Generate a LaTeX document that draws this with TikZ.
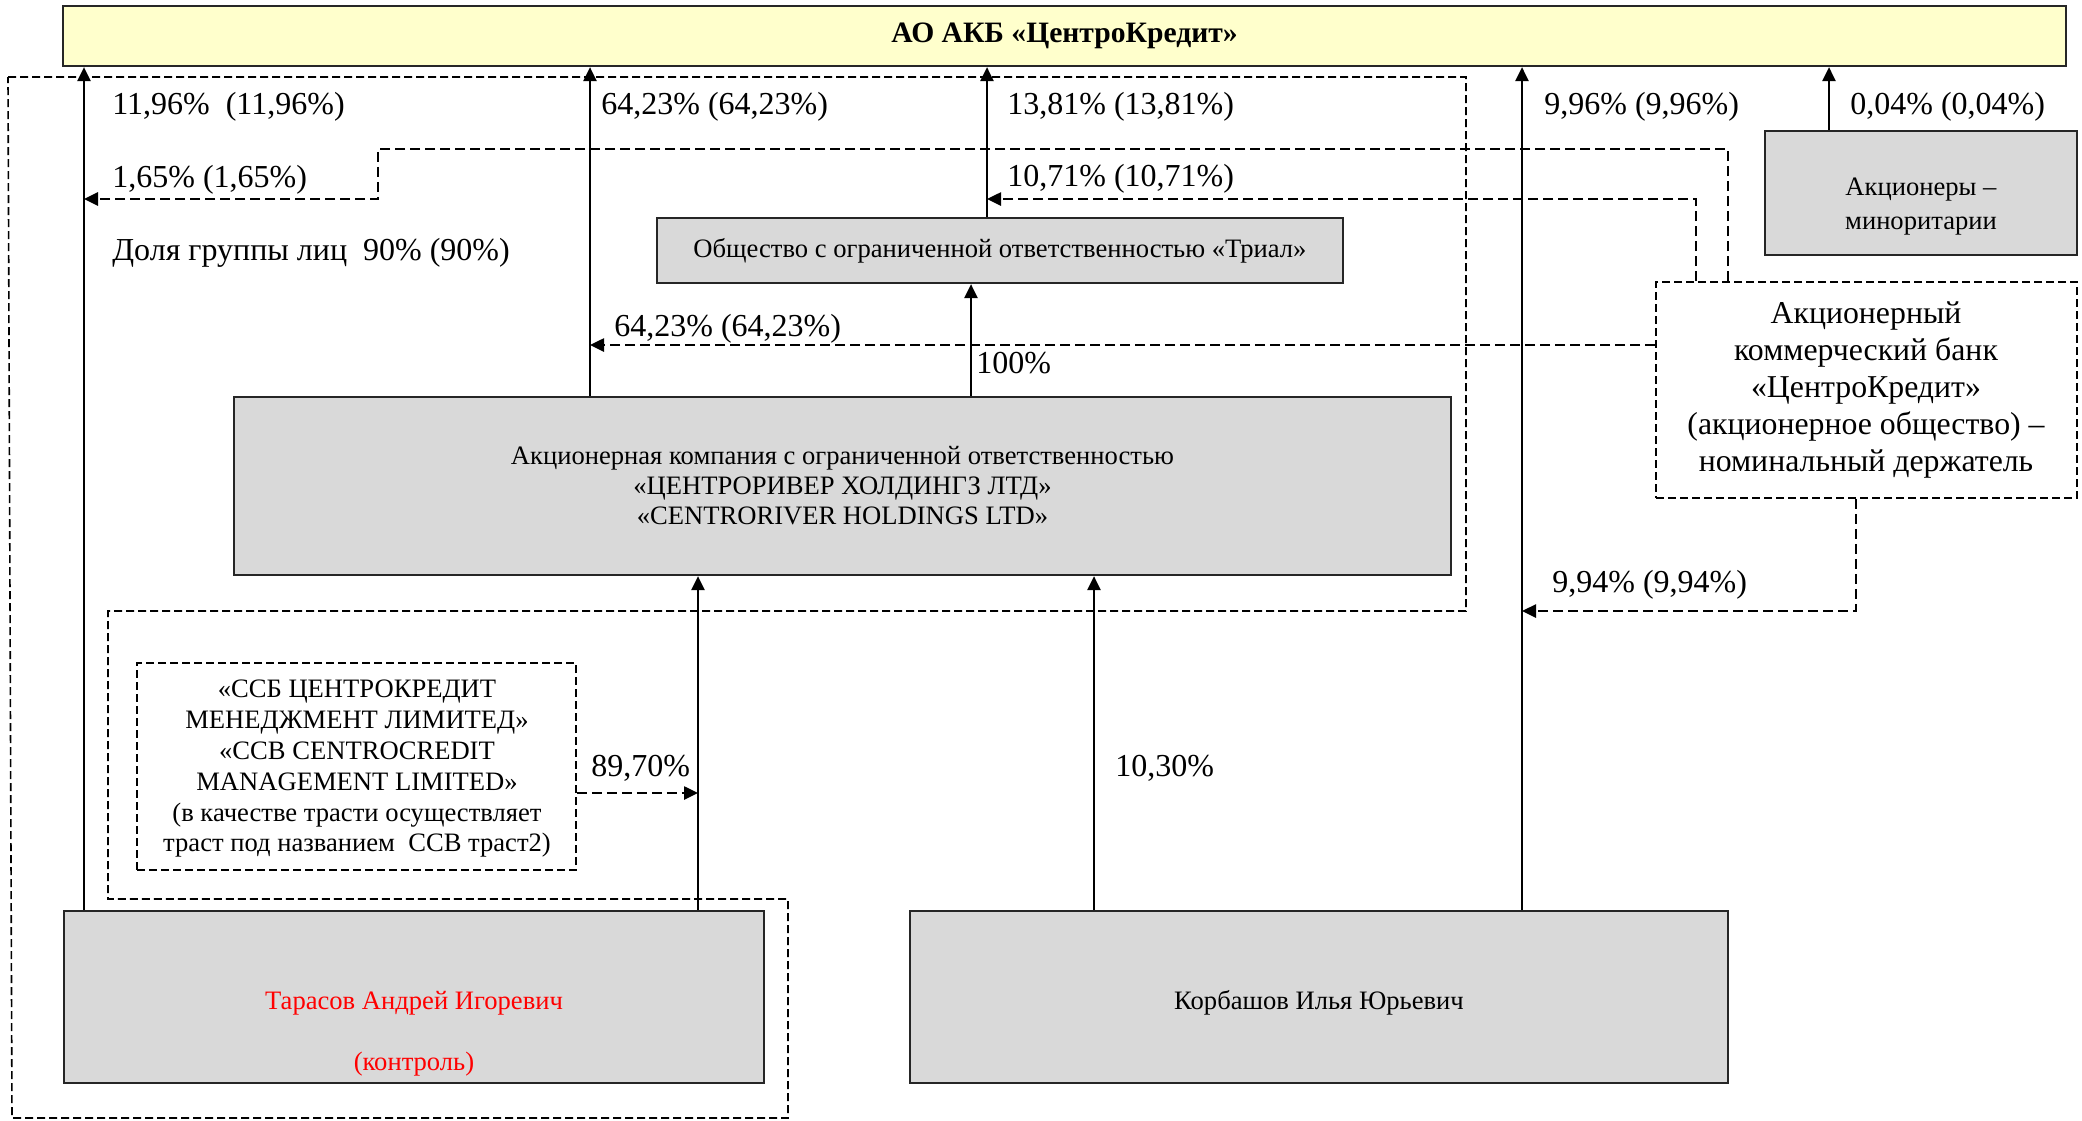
\documentclass[tikz,border=0pt]{standalone}
\usepackage{fontspec}
\setmainfont{Liberation Serif}
\usetikzlibrary{arrows.meta,calc}
\definecolor{topfill}{HTML}{FFFFCC}
\definecolor{boxfill}{HTML}{D9D9D9}
\begin{document}
\begin{tikzpicture}[x=0.5pt,y=-0.5pt,
  box/.style={draw=black!85,line width=1.1pt,fill=boxfill,inner sep=0pt,align=center,font=\fontsize{13.3}{15}\selectfont},
  dbox/.style={draw,dashed,dash pattern=on 4pt off 2pt,line width=0.8pt,fill=white,inner sep=0pt,align=center},
  frame/.style={draw,dash pattern=on 4pt off 2pt,line width=0.8pt},
  arr/.style={line width=1.2pt,-{Triangle[length=7pt,width=6.5pt]}},
  darr/.style={line width=1.3pt,dash pattern=on 5pt off 2.5pt,-{Triangle[length=7pt,width=6.5pt]}},
  lbl/.style={anchor=west,inner sep=0pt,font=\fontsize{16}{19}\selectfont}]
\useasboundingbox (0,0) rectangle (2082,1120);
% group frame
\draw[frame] (8,77) -- (1466,77) -- (1466,611) -- (108,611) -- (108,899) -- (788,899) -- (788,1118) -- (12,1118) -- cycle;
% nodes
\node[box,fill=topfill,minimum width=1001.5pt,minimum height=30pt,font=\fontsize{14.8}{17}\selectfont\bfseries] (top) at (1064.5,36) {АО АКБ «ЦентроКредит»};
\node[box,minimum width=343pt,minimum height=32.5pt] (trial) at (1000,250.5) {Общество с ограниченной ответственностью «Триал»};
\node[box,minimum width=608.5pt,minimum height=89pt] (cr) at (842.5,486) {Акционерная компания с ограниченной ответственностью\\«ЦЕНТРОРИВЕР ХОЛДИНГЗ ЛТД»\\«CENTRORIVER HOLDINGS LTD»};
\node[dbox,minimum width=210.5pt,minimum height=108pt] (bank) at (1866.5,390) {};
\node[inner sep=0pt,align=center,font=\fontsize{15.9}{18.4}\selectfont] (banktxt) at (1866,390) {Акционерный\\коммерческий банк\\«ЦентроКредит»\\(акционерное общество) –\\номинальный держатель};
\node[box,minimum width=156pt,minimum height=62pt] (min) at (1921,193) {};
\node[inner sep=0pt,align=center,font=\fontsize{13.3}{17}\selectfont] (mintxt) at (1921,207) {Акционеры –\\миноритарии};
\node[dbox,minimum width=219.5pt,minimum height=103.5pt] (ccb) at (356.5,766.5) {};
\node[inner sep=0pt,align=center,font=\fontsize{13.3}{15.4}\selectfont] (ccbtxt) at (357,769) {«ССБ ЦЕНТРОКРЕДИТ\\МЕНЕДЖМЕНТ ЛИМИТЕД»\\«CCB CENTROCREDIT\\MANAGEMENT LIMITED»\\(в качестве трасти осуществляет\\траст под названием\ \ ССВ траст2)};
\node[box,minimum width=350pt,minimum height=86pt] (tar) at (414,997) {};
\node[inner sep=0pt,text=red,font=\fontsize{13.3}{15}\selectfont] (tar1) at (414,1003) {Тарасов Андрей Игоревич};
\node[inner sep=0pt,text=red,font=\fontsize{13.3}{15}\selectfont] (tar2) at (414,1064) {(контроль)};
\node[box,minimum width=409pt,minimum height=86pt,text depth=0pt,text height=4pt] (kor) at (1319,997) {};
\node[inner sep=0pt,font=\fontsize{13.3}{15}\selectfont] (kortxt) at (1319,1003) {Корбашов Илья Юрьевич};
% columns
\coordinate (cA) at (84,0);
\coordinate (cB) at (590,0);
\coordinate (cC) at (987,0);
\coordinate (cD) at (1522,0);
\coordinate (cE) at (1829,0);
\coordinate (cF) at (971,0);
\coordinate (cG) at (698,0);
\coordinate (cH) at (1094,0);
\coordinate (cI) at (1728,0);
\coordinate (cJ) at (1696,0);
\coordinate (cK) at (1856,0);
\coordinate (r149) at (0,149);
\coordinate (r199) at (0,199);
\coordinate (r345) at (0,345);
\coordinate (r611) at (0,611);
\coordinate (r793) at (0,793);
\coordinate (xk) at (378,0);
% solid arrows
\draw[arr] (tar.north -| cA) -- (top.south -| cA);
\draw[arr] (cr.north -| cB) -- (top.south -| cB);
\draw[arr] (trial.north -| cC) -- (top.south -| cC);
\draw[arr] (kor.north -| cD) -- (top.south -| cD);
\draw[arr] (min.north -| cE) -- (top.south -| cE);
\draw[arr] (cr.north -| cF) -- (trial.south -| cF);
\draw[arr] (tar.north -| cG) -- (cr.south -| cG);
\draw[arr] (kor.north -| cH) -- (cr.south -| cH);
% dashed arrows
\draw[darr] (bank.north -| cI) -- (cI |- r149) -- (xk |- r149) -- (xk |- r199) -- (cA |- r199);
\draw[darr] (bank.north -| cJ) -- (cJ |- r199) -- (cC |- r199);
\draw[darr] (bank.west |- r345) -- (cB |- r345);
\draw[darr] (bank.south -| cK) -- (cK |- r611) -- (cD |- r611);
\draw[darr] (ccb.east |- r793) -- (cG |- r793);
% labels
\node[lbl] (l1) at (112,107) {11,96\%\ \ (11,96\%)};
\node[lbl] (l2) at (601,107) {64,23\% (64,23\%)};
\node[lbl] (l3) at (1007,107) {13,81\% (13,81\%)};
\node[lbl] (l4) at (1544,107) {9,96\% (9,96\%)};
\node[lbl] (l5) at (1850,107) {0,04\% (0,04\%)};
\node[lbl] (l6) at (112,180) {1,65\% (1,65\%)};
\node[lbl] (l7) at (1007,179) {10,71\% (10,71\%)};
\node[lbl] (l8) at (112,253) {Доля группы лиц\ \ 90\% (90\%)};
\node[lbl] (l9) at (614,329) {64,23\% (64,23\%)};
\node[lbl] (l10) at (976,363) {100\%};
\node[lbl] (l11) at (1552,585) {9,94\% (9,94\%)};
\node[lbl] (l12) at (591,768) {89,70\%};
\node[lbl] (l13) at (1115,768) {10,30\%};
\end{tikzpicture}
\end{document}
